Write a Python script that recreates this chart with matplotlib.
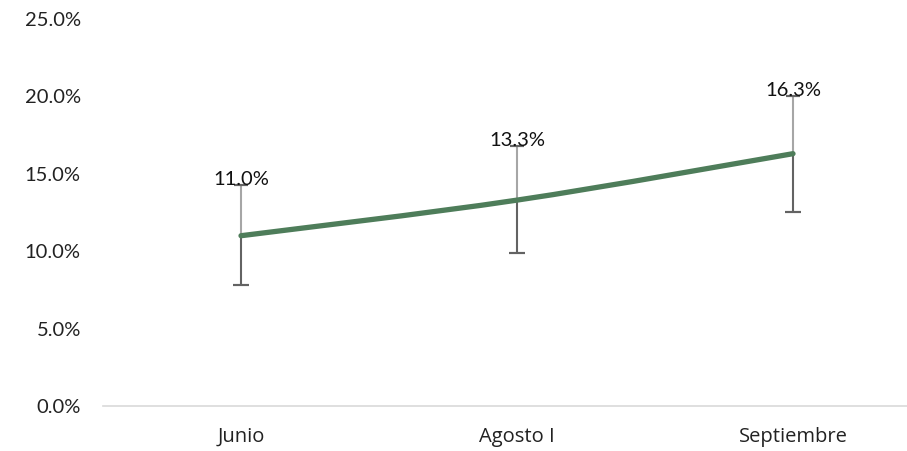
import matplotlib.pyplot as plt
import numpy as np
from matplotlib.path import Path
from matplotlib.patches import PathPatch

# Data
categories = ["Junio", "Agosto I", "Septiembre"]
values = [11.0, 13.3, 16.3]
err_up = [3.3, 3.5, 3.7]
err_down = [3.2, 3.4, 3.75]

x = np.arange(len(categories))
y = np.array(values)

fig = plt.figure(figsize=(9.07, 4.51), dpi=100)
ax = fig.add_axes([103 / 907, 1 - 406 / 451, 828 / 907, 387 / 451])

# Error bars: light gray upper half, dark gray lower half
ax.errorbar(x, y, yerr=[np.zeros(3), err_up], fmt='none', ecolor='#a6a6a6',
            elinewidth=1.5, capsize=0, zorder=2)
ax.errorbar(x, y, yerr=[err_down, np.zeros(3)], fmt='none', ecolor='#636363',
            elinewidth=1.5, capsize=0, zorder=2)
ax.errorbar(x, y + np.array(err_up), yerr=0, fmt='none', ecolor='#636363',
            capsize=5, capthick=1.5, elinewidth=0, zorder=2)
ax.errorbar(x, y - np.array(err_down), yerr=0, fmt='none', ecolor='#636363',
            capsize=6, capthick=1.5, elinewidth=0, zorder=2)

# Smoothed line (Catmull-Rom style bezier, like Excel's smoothed line)
pts = np.column_stack([x, y])
verts = [pts[0]]
codes = [Path.MOVETO]
for i in range(len(pts) - 1):
    p0 = pts[i - 1] if i > 0 else pts[i]
    p1 = pts[i]
    p2 = pts[i + 1]
    p3 = pts[i + 2] if i + 2 < len(pts) else pts[i + 1]
    c1 = p1 + (p2 - p0) / 6
    c2 = p2 - (p3 - p1) / 6
    verts += [c1, c2, p2]
    codes += [Path.CURVE4] * 3
ax.add_patch(PathPatch(Path(verts, codes), facecolor='none', edgecolor='#4e7d5a',
                       lw=3.8, capstyle='round', zorder=3))

# Value labels
for xi, yi, eu in zip(x, y, err_up):
    ax.text(xi, yi + eu, f"{yi:.1f}%", ha='center', va='baseline',
            fontsize=14.5, family='Lato', color='#111111', zorder=4)

ax.set_xlim(-0.5, 2.5)
ax.set_ylim(0, 25)
ax.set_yticks(np.arange(0, 26, 5))
ax.set_yticklabels([f"{v:.1f}%" for v in np.arange(0, 26, 5)], family='Lato',
                   fontsize=14.5, color='#222222')
ax.set_xticks(x)
ax.set_xticklabels(categories, fontsize=14.5, family='Open Sans', color='#222222')
ax.tick_params(axis='both', length=0)
ax.tick_params(axis='y', pad=16)
ax.tick_params(axis='x', pad=15)

for s in ['top', 'right', 'left']:
    ax.spines[s].set_visible(False)
ax.spines['bottom'].set_color('#d9d9d9')
ax.spines['bottom'].set_linewidth(1.2)

fig.savefig("out.png", dpi=100)
